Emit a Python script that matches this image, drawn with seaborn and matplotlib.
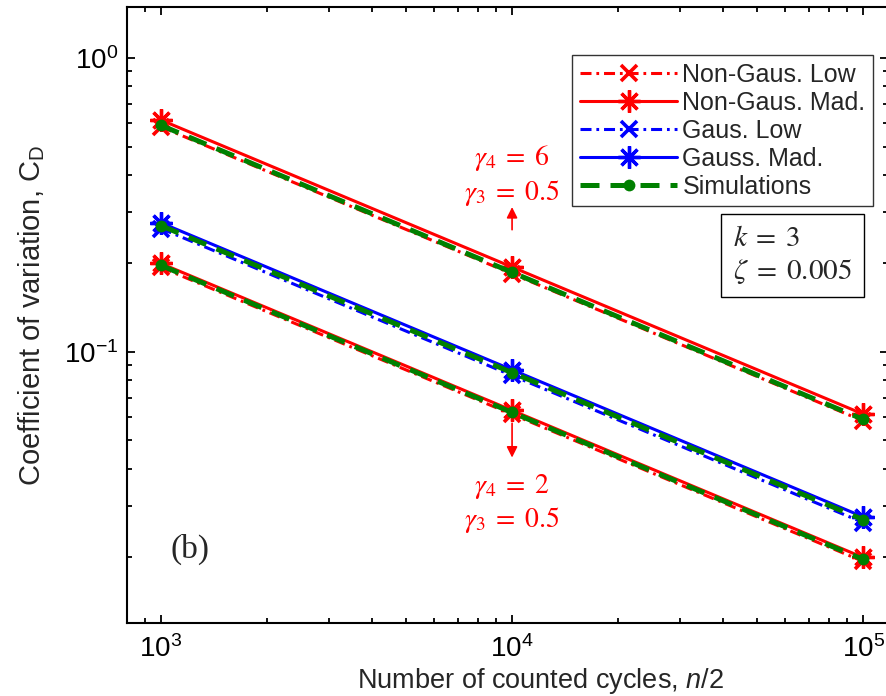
import numpy as np
import pandas as pd
import seaborn as sns
import matplotlib.pyplot as plt
from matplotlib.lines import Line2D
from matplotlib.ticker import LogLocator, NullFormatter, LogFormatterSciNotation

# Number of counted cycles n/2
cycles = [1e3, 1e4, 1e5]

# Non-Gaussian, gamma4 = 6, gamma3 = 0.5
ng6_low = [0.583, 0.1845, 0.0583]
ng6_mad = [0.615, 0.1945, 0.0615]
ng6_sim = [0.590, 0.1866, 0.0590]

# Gaussian
g_low = [0.263, 0.0832, 0.0263]
g_mad = [0.275, 0.0870, 0.0275]
g_sim = [0.269, 0.0851, 0.0269]

# Non-Gaussian, gamma4 = 2, gamma3 = 0.5
ng2_low = [0.194, 0.0614, 0.0194]
ng2_mad = [0.200, 0.0633, 0.0200]
ng2_sim = [0.197, 0.0623, 0.0197]

legend_labels = ["Non-Gaus. Low", "Non-Gaus. Mad.", "Gaus. Low", "Gauss. Mad.", "Simulations"]

RED = (1, 0, 0)
BLUE = (0, 0, 1)
GREEN = (0, 0.5, 0)

sns.set_theme(style="ticks")
plt.rcParams["font.family"] = ["Liberation Sans", "DejaVu Sans"]
plt.rcParams["mathtext.fontset"] = "custom"
plt.rcParams["mathtext.rm"] = "Liberation Sans"
plt.rcParams["mathtext.it"] = "Liberation Sans:italic"

W, H = 887, 696
fig = plt.figure(figsize=(W / 100, H / 100), dpi=100)
ax = fig.add_axes([127 / W, 1 - 623 / H, (888 - 127) / W, (623 - 7) / H])

dashdot = (0, (3.6, 1.6, 0.9, 1.6))
green_dash = (0, (3.8, 2.2))
asterisk = (8, 2, 0)


def low_style(c):
    return dict(color=c, linestyle=dashdot, linewidth=2.2, marker="x", markersize=12,
                markeredgewidth=2.6, markeredgecolor=c, markerfacecolor=c)


def mad_style(c):
    return dict(color=c, linestyle="-", linewidth=2.2, marker=asterisk, markersize=16,
                markeredgewidth=2.4, markeredgecolor=c, markerfacecolor=c)


sim_style = dict(color=GREEN, linestyle=green_dash, linewidth=3.6, marker="o", markersize=8.5,
                 markeredgewidth=0, markerfacecolor=GREEN, markeredgecolor=GREEN)

for series in (ng6_low, ng2_low):
    sns.lineplot(x=cycles, y=series, ax=ax, **low_style(RED))
sns.lineplot(x=cycles, y=g_low, ax=ax, **low_style(BLUE))
for series in (ng6_mad, ng2_mad):
    sns.lineplot(x=cycles, y=series, ax=ax, **mad_style(RED))
sns.lineplot(x=cycles, y=g_mad, ax=ax, **mad_style(BLUE))
for series in (ng6_sim, g_sim, ng2_sim):
    sns.lineplot(x=cycles, y=series, ax=ax, **sim_style)

ax.set_xscale("log")
ax.set_yscale("log")
ax.set_xlim(10 ** 2.903, 10 ** 5.071)
ax.set_ylim(10 ** -1.9218, 10 ** 0.1735)

ax.xaxis.set_major_locator(LogLocator(base=10, numticks=10))
ax.yaxis.set_major_locator(LogLocator(base=10, numticks=10))
ax.xaxis.set_minor_locator(LogLocator(base=10, subs=np.arange(2, 10), numticks=20))
ax.yaxis.set_minor_locator(LogLocator(base=10, subs=np.arange(2, 10), numticks=20))
ax.xaxis.set_major_formatter(LogFormatterSciNotation())
ax.yaxis.set_major_formatter(LogFormatterSciNotation())
ax.xaxis.set_minor_formatter(NullFormatter())
ax.yaxis.set_minor_formatter(NullFormatter())

ax.tick_params(which="both", direction="in", top=True, right=True, colors="black",
               labelsize=20, width=1.3)
ax.tick_params(which="major", length=6)
ax.tick_params(which="minor", length=3.5)
ax.tick_params(axis="x", which="major", pad=9)
ax.tick_params(axis="y", which="major", pad=6.5)
for sp in ax.spines.values():
    sp.set_linewidth(1.5)
    sp.set_color("black")

ax.set_xlabel("Number of counted cycles, $n/2$", fontsize=19.5)
ax.xaxis.set_label_coords(0.543, -0.0695)
ax.set_ylabel("Coefficient of variation, C$_\\mathregular{D}$", fontsize=21, labelpad=12)

handles = [
    Line2D([], [], **low_style(RED)),
    Line2D([], [], **mad_style(RED)),
    Line2D([], [], **low_style(BLUE)),
    Line2D([], [], **mad_style(BLUE)),
    Line2D([], [], **sim_style),
]
leg = ax.legend(handles, legend_labels, loc="upper right",
                bbox_to_anchor=(873 / W, 1 - 55 / H), bbox_transform=fig.transFigure,
                fontsize=18, handlelength=3.9, handletextpad=0.2, labelspacing=0.16,
                borderpad=0.3, borderaxespad=0, frameon=True, fancybox=False)
leg.get_frame().set_edgecolor("black")
leg.get_frame().set_linewidth(1.0)

# parameter box
fig.text(733 / W, 1 - 255 / H, "$k\\;=\\;3$\n$\\zeta\\;=\\;0.005$", fontsize=21,
         math_fontfamily="stix", ha="left", va="center", linespacing=1.2,
         bbox=dict(boxstyle="square,pad=0.4", fc="white", ec="black", lw=1.0))

# skewness / kurtosis annotations
ax.text(1e4, 0.398, "$\\gamma_4\\;=\\;6$\n$\\gamma_3\\;=\\;0.5$", color=RED, fontsize=20,
        math_fontfamily="stix", ha="center", va="center", linespacing=1.2)
ax.annotate("", xy=(1e4, 0.318), xytext=(1e4, 0.255),
            arrowprops=dict(arrowstyle="-|>", color=RED, lw=1.2, mutation_scale=16))
ax.text(1e4, 0.0305, "$\\gamma_4\\;=\\;2$\n$\\gamma_3\\;=\\;0.5$", color=RED, fontsize=20,
        math_fontfamily="stix", ha="center", va="center", linespacing=1.2)
ax.annotate("", xy=(1e4, 0.0428), xytext=(1e4, 0.0585),
            arrowprops=dict(arrowstyle="-|>", color=RED, lw=1.2, mutation_scale=16))

ax.text(0.083, 0.119, "(b)", transform=ax.transAxes, fontsize=24,
        family="Liberation Serif", ha="center", va="center")

fig.savefig("out.png", dpi=100)
